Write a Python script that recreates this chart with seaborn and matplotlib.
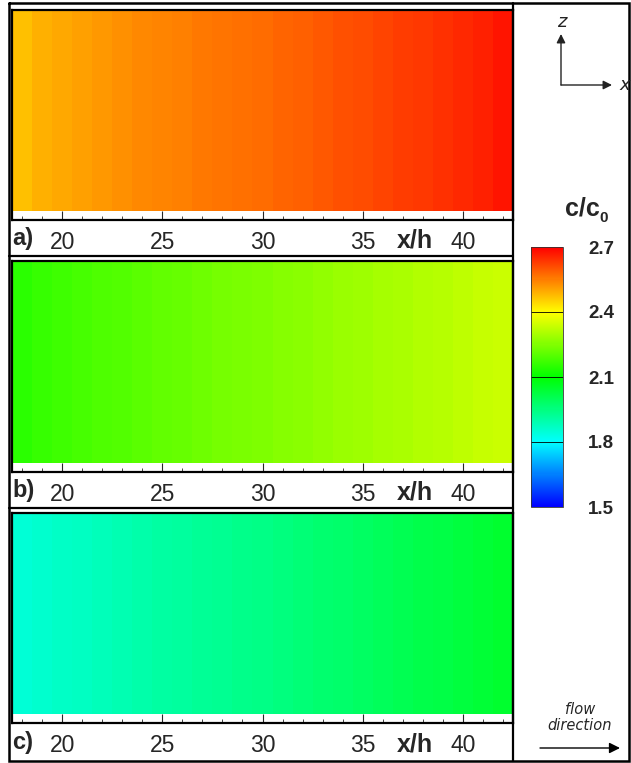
import numpy as np
import pandas as pd
import seaborn as sns
import matplotlib.pyplot as plt
from matplotlib.colors import LinearSegmentedColormap
from matplotlib.ticker import FixedLocator

# x/h positions of the cells (cell centres) and the c/c0 values
x_h = list(range(18, 43))
conc_a = [2.474, 2.490, 2.503, 2.512, 2.520, 2.528, 2.536, 2.543, 2.549, 2.555,
          2.561, 2.567, 2.573, 2.580, 2.587, 2.595, 2.602, 2.609, 2.617, 2.626,
          2.634, 2.643, 2.652, 2.662, 2.672]
conc_b = [2.150, 2.162, 2.173, 2.182, 2.190, 2.198, 2.206, 2.214, 2.221, 2.228,
          2.236, 2.243, 2.250, 2.257, 2.264, 2.272, 2.279, 2.286, 2.293, 2.300,
          2.308, 2.315, 2.322, 2.330, 2.338]
conc_c = [1.848, 1.857, 1.866, 1.875, 1.883, 1.892, 1.900, 1.908, 1.915, 1.922,
          1.930, 1.937, 1.944, 1.952, 1.960, 1.969, 1.977, 1.986, 1.994, 2.003,
          2.011, 2.020, 2.028, 2.037, 2.048]
panel_labels = ["a)", "b)", "c)"]
major_ticks = [20, 25, 30, 35, 40]
cbar_levels = [1.5, 1.8, 2.1, 2.4, 2.7]

W, H = 631, 763
cmap = LinearSegmentedColormap.from_list(
    "tec", ["#0000ff", "#00ffff", "#00ff00", "#ffff00", "#ff0000"])

sns.set_style("white")
plt.rcParams["font.family"] = ["Liberation Sans", "DejaVu Sans"]

fig = plt.figure(figsize=(W / 100, H / 100), dpi=100)


def fig_rect(x0, y0, x1, y1):
    # pixel box (top-left origin) -> figure fraction rect
    return [x0 / W, 1 - y1 / H, (x1 - x0) / W, (y1 - y0) / H]


# overlay axes in pixel units for frame, arrows and free text
ov = fig.add_axes([0, 0, 1, 1], zorder=5)
ov.set_xlim(0, W)
ov.set_ylim(H, 0)
ov.axis("off")
ov.patch.set_alpha(0)

cax = fig.add_axes(fig_rect(531, 247, 563, 507))

# (top, colour bottom, axis line, band bottom) in pixels
rows = [(10, 211, 220, 256), (261, 463, 472, 508), (513, 714, 723, 761)]
x0 = x_h[0] - 0.5
cbar = None

for i, (conc, lab, (top, cbot, line, band)) in enumerate(
        zip([conc_a, conc_b, conc_c], panel_labels, rows)):
    ax = fig.add_axes(fig_rect(12, top, 513, line))
    df = pd.DataFrame([conc], columns=x_h)
    sns.heatmap(df, ax=ax, cmap=cmap, vmin=1.5, vmax=2.7,
                cbar=(i == 0), cbar_ax=cax if i == 0 else None,
                xticklabels=False, yticklabels=False)
    if i == 0:
        cbar = ax.collections[0].colorbar
    extra = (line - cbot) / (cbot - top)
    ax.set_ylim(1 + extra, 0)
    ax.set_facecolor("white")
    for s in ax.spines.values():
        s.set_visible(True)
        s.set_color("black")
        s.set_linewidth(1.6)
    ax.set_xticks([t - x0 for t in major_ticks])
    ax.set_xticklabels([str(t) for t in major_ticks])
    ax.xaxis.set_minor_locator(FixedLocator([v - x0 for v in x_h]))
    ax.tick_params(axis="x", which="major", direction="in", length=6.5,
                   width=0.8, labelsize=16.5, pad=8, bottom=True)
    ax.tick_params(axis="x", which="minor", direction="in", length=3.0,
                   width=0.6, bottom=True)
    ax.tick_params(axis="y", left=False, right=False)
    ax.set_xlabel("")
    ax.set_ylabel("")

    mid = (line + band) / 2
    ov.text(12, mid + 1, lab, fontsize=17, fontweight="bold",
            ha="left", va="center")
    ov.text(397, mid + 3, "x/h", fontsize=18, fontweight="bold",
            ha="left", va="center")
    if i < 2:
        ov.plot([9, 513], [band, band], color="black", lw=1.6)

# colour bar styling
cbar.set_ticks(cbar_levels)
cbar.set_ticklabels([f"{v:.1f}" for v in cbar_levels])
cbar.outline.set_linewidth(0.6)
cbar.outline.set_edgecolor("#333333")
cax.tick_params(axis="y", length=0, labelsize=13.5, pad=18)
for t in cax.get_yticklabels():
    t.set_fontweight("bold")
for v in cbar_levels[1:-1]:
    cax.axhline(v, color="black", lw=0.6)

ov.text(565, 216, "c/c", fontsize=18, fontweight="bold", ha="left",
        va="baseline")
ov.text(599, 222, "0", fontsize=11, fontweight="bold", ha="left",
        va="baseline")

# outer frame and separator
ov.plot([9, 629, 629, 9, 9], [3, 3, 761, 761, 3], color="black", lw=1.8,
        solid_joinstyle="miter")
ov.plot([513, 513], [3, 761], color="black", lw=1.6)

# coordinate glyph
arrow = dict(arrowstyle="-|>", color="#222222", lw=1.0, mutation_scale=13,
             shrinkA=0, shrinkB=0)
ov.annotate("", xy=(561, 34), xytext=(561, 85), arrowprops=arrow)
ov.annotate("", xy=(612, 85), xytext=(561, 85), arrowprops=arrow)
ov.text(562, 22, "z", fontsize=13, style="italic", ha="center", va="center",
        family="DejaVu Sans", color="#222222")
ov.text(619, 85, "x", fontsize=13, style="italic", ha="left", va="center",
        family="DejaVu Sans", color="#222222")

# flow direction note
ov.text(580, 710, "flow", fontsize=10.5, style="italic", ha="center",
        va="center", family="DejaVu Sans")
ov.text(580, 725, "direction", fontsize=10.5, style="italic", ha="center",
        va="center", family="DejaVu Sans")
ov.annotate("", xy=(620, 748), xytext=(540, 748),
            arrowprops=dict(arrowstyle="-|>", color="black", lw=1.0,
                            mutation_scale=16, shrinkA=0, shrinkB=0))

fig.savefig("out.png", dpi=100)
